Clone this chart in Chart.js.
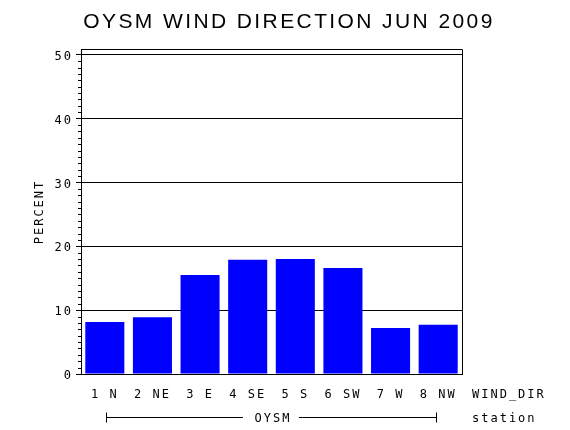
<!DOCTYPE html>
<html>
<head>
<meta charset="utf-8">
<script src="https://cdn.jsdelivr.net/npm/chart.js@4"></script>
<style>
  html, body { margin: 0; padding: 0; background: #fff; }
  #wrap { width: 570px; height: 430px; }
</style>
</head>
<body>
<div id="wrap"><canvas id="chart" width="570" height="430"></canvas></div>
<script>
// values
const directions = ['1 N', '2 NE', '3 E', '4 SE', '5 S', '6 SW', '7 W', '8 NW'];
const percent = [8.15, 8.9, 15.5, 17.9, 18.0, 16.6, 7.2, 7.7];
const yTicks = [0, 10, 20, 30, 40, 50];
const yMax = 50.9;
const title = 'OYSM WIND DIRECTION JUN 2009';
const station = 'OYSM';

const monoFont = '"DejaVu Sans Mono", monospace';

function spaced(ctx, px) {
    if ('letterSpacing' in ctx) ctx.letterSpacing = px + 'px';
}

const extras = {
    id: 'extras',
    beforeDraw(chart) {
        spaced(chart.ctx, 2);
    },
    afterDraw(chart) {
        const ctx = chart.ctx;
        const area = chart.chartArea;
        const y = chart.scales.y;
        const x = chart.scales.x;
        ctx.save();
        ctx.strokeStyle = '#000';
        ctx.lineWidth = 1;

        // top and right edges of the frame
        ctx.beginPath();
        ctx.moveTo(Math.round(area.left) + 0.5, Math.round(area.top) + 0.5);
        ctx.lineTo(Math.round(area.right) + 0.5, Math.round(area.top) + 0.5);
        ctx.lineTo(Math.round(area.right) + 0.5, Math.round(area.bottom) + 0.5);
        ctx.stroke();

        // minor ticks every unit
        ctx.beginPath();
        for (let v = 1; v < yMax; v++) {
            if (v % 10 === 0) continue;
            const py = Math.round(y.getPixelForValue(v)) + 0.5;
            ctx.moveTo(area.left - 3, py);
            ctx.lineTo(area.left, py);
        }
        ctx.stroke();

        ctx.fillStyle = '#000';

        // title
        spaced(ctx, 2.4);
        ctx.font = '21px "Liberation Sans", Arial, sans-serif';
        ctx.textAlign = 'center';
        ctx.textBaseline = 'alphabetic';
        ctx.fillText(title, 289, 28);

        // axis names
        spaced(ctx, 2);
        ctx.font = '12px ' + monoFont;
        ctx.textAlign = 'left';
        ctx.textBaseline = 'middle';
        ctx.fillText('WIND_DIR', 472, 395);
        ctx.fillText('station', 472, 419);

        // station bracket spanning the categories
        const x0 = Math.round(x.getPixelForValue(0)) + 1.5;
        const x1 = Math.round(x.getPixelForValue(directions.length - 1)) - 1.5;
        const ly = 417.5;
        const mid = 272;
        ctx.beginPath();
        ctx.moveTo(x0, ly - 5);
        ctx.lineTo(x0, ly + 5);
        ctx.moveTo(x0, ly);
        ctx.lineTo(mid - 29, ly);
        ctx.moveTo(mid + 27, ly);
        ctx.lineTo(x1, ly);
        ctx.moveTo(x1, ly - 5);
        ctx.lineTo(x1, ly + 5);
        ctx.stroke();
        ctx.textAlign = 'center';
        ctx.fillText(station, mid + 1, ly + 1);

        // y axis name
        ctx.translate(40, 212);
        ctx.rotate(-Math.PI / 2);
        ctx.fillText('PERCENT', 0, 0);
        ctx.restore();
    }
};

new Chart(document.getElementById('chart'), {
    type: 'bar',
    data: {
        labels: directions,
        datasets: [{
            data: percent,
            backgroundColor: '#0000ff',
            borderWidth: 0,
            barPercentage: 0.82,
            categoryPercentage: 1
        }]
    },
    options: {
        responsive: false,
        animation: false,
        devicePixelRatio: 1,
        layout: { padding: { left: 0, right: 108, top: 49, bottom: 0 } },
        plugins: {
            legend: { display: false },
            title: { display: false },
            tooltip: { enabled: false }
        },
        scales: {
            x: {
                grid: { display: false, drawTicks: false },
                border: { display: true, color: '#000', width: 1 },
                ticks: {
                    color: '#000',
                    font: { family: monoFont, size: 12 },
                    padding: 14,
                    maxRotation: 0,
                    autoSkip: false
                },
                afterFit: scale => { scale.height = 56; }
            },
            y: {
                min: 0,
                max: yMax,
                afterBuildTicks: scale => { scale.ticks = yTicks.map(v => ({ value: v })); },
                grid: { color: '#000', lineWidth: 1, tickLength: 5, drawTicks: true },
                border: { display: true, color: '#000', width: 1 },
                ticks: {
                    color: '#000',
                    font: { family: monoFont, size: 12 },
                    padding: 3,
                    labelOffset: 2
                },
                afterFit: scale => { scale.width = 81; }
            }
        }
    },
    plugins: [extras]
});
</script>
</body>
</html>
